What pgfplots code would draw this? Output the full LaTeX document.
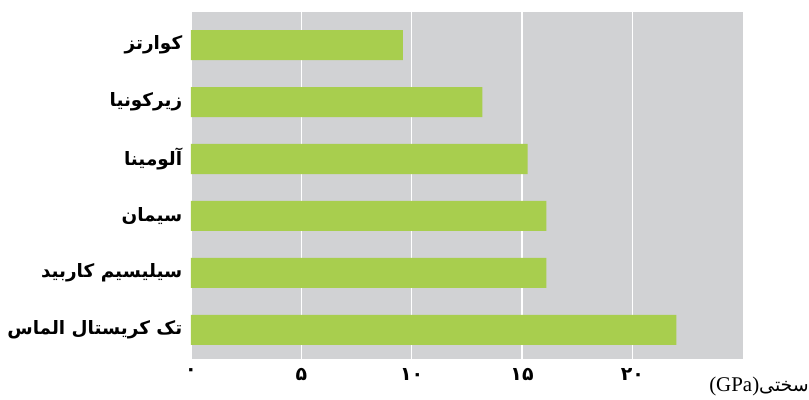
\documentclass[border=0pt]{standalone}
\usepackage{fontspec}
\usepackage{pgfplots}
\pgfplotsset{compat=1.18}
\TeXXeTstate=1
\newfontfamily\arabicfont[Script=Arabic]{DejaVu Sans}
\newfontfamily\serifont{Liberation Serif}
\definecolor{barg}{HTML}{A8CE4E}
\definecolor{bgg}{HTML}{D1D2D4}
\begin{document}
\begin{tikzpicture}
\begin{axis}[
  scale only axis,
  width=551.7bp, height=347bp,
  xbar, bar width=30bp,
  xmin=0, xmax=25,
  ymin=-0.51, ymax=5.58,
  axis background/.style={fill=bgg},
  axis line style={draw=none},
  major tick style={draw=none},
  xmajorgrids, grid style={white, line width=1.6bp},
  xtick={0,5,10,15,20},
  xticklabels={۰,۵,۱۰,۱۵,۲۰},
  xticklabel style={font=\arabicfont\bfseries\fontsize{19}{21}\selectfont, yshift=-6bp},
  ytick={0,1,2,3,4,5},
  yticklabels={{\beginR تک کریستال الماس\endR},{\beginR سیلیسیم کاربید\endR},{\beginR سیمان\endR},{\beginR آلومینا\endR},{\beginR زیرکونیا\endR},{\beginR کوارتز\endR}},
  yticklabel style={font=\arabicfont\bfseries\fontsize{18.5}{21}\selectfont, xshift=-1bp},
]
\addplot[fill=barg, draw=none] coordinates {(22.0,0) (16.1,1) (16.1,2) (15.25,3) (13.2,4) (9.6,5)};
\end{axis}
\node[anchor=east, inner sep=0pt] at (618bp,-27bp) {{\serifont\fontsize{21}{24}\selectfont (GPa)}{\arabicfont\fontsize{19}{22}\selectfont\beginR سختی\endR}};
\pgfresetboundingbox
\path[use as bounding box] (-191bp,-41bp) rectangle (618bp,359bp);
\end{tikzpicture}
\end{document}
